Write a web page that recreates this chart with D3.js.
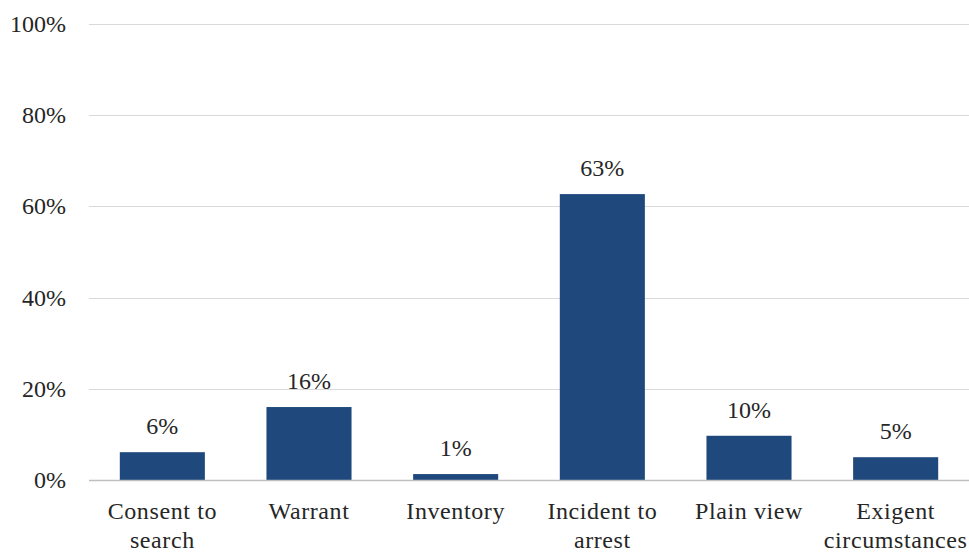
<!DOCTYPE html>
<html><head><meta charset="utf-8">
<script src="https://cdn.jsdelivr.net/npm/d3@7"></script>
<style>
html,body{margin:0;padding:0;background:#fff;}
svg{display:block;}
</style></head>
<body>
<svg id="chart" width="969" height="552"></svg>
<script>
const categories = ["Consent to\nsearch", "Warrant", "Inventory", "Incident to\narrest", "Plain view", "Exigent\ncircumstances"];
const values = [6.1, 16, 1.3, 62.7, 9.7, 5];
const valueLabels = ["6%", "16%", "1%", "63%", "10%", "5%"];
const yTicks = [0, 20, 40, 60, 80, 100];

const svg = d3.select("#chart");
const W = 969, H = 552;
const m = {left: 89, right: 0, top: 24, bottom: 72};
const FONT = "'Liberation Serif', serif";

const x = d3.scaleBand().domain(categories).range([m.left, W - m.right]).paddingInner(0.42).paddingOuter(0.21);
const y = d3.scaleLinear().domain([0, 100]).range([H - m.bottom, m.top]);

svg.append("g").selectAll("line").data(yTicks.filter(d => d > 0)).join("line")
  .attr("x1", m.left).attr("x2", W - m.right)
  .attr("y1", d => Math.round(y(d)) + 0.5).attr("y2", d => Math.round(y(d)) + 0.5)
  .attr("stroke", "#d9d9d9").attr("stroke-width", 1);

svg.append("g").selectAll("text").data(yTicks).join("text")
  .attr("x", 66).attr("y", d => y(d)).attr("dy", "0.33em")
  .attr("text-anchor", "end").attr("font-size", 24).style("font-family", FONT).attr("fill", "#262626")
  .text(d => d + "%");

svg.append("g").selectAll("rect").data(values).join("rect")
  .attr("x", (d, i) => x(categories[i]))
  .attr("width", x.bandwidth())
  .attr("y", d => y(d))
  .attr("height", d => y(0) - y(d))
  .attr("fill", "#1F497D");

svg.append("line")
  .attr("x1", m.left).attr("x2", W - m.right)
  .attr("y1", Math.round(y(0)) + 0.5).attr("y2", Math.round(y(0)) + 0.5)
  .attr("stroke", "#bfbfbf").attr("stroke-width", 1.3);

svg.append("g").selectAll("text").data(values).join("text")
  .attr("x", (d, i) => x(categories[i]) + x.bandwidth() / 2)
  .attr("y", d => y(d) - 18)
  .attr("text-anchor", "middle").attr("font-size", 24).style("font-family", FONT).attr("fill", "#262626")
  .text((d, i) => valueLabels[i]);

const cat = svg.append("g").selectAll("text").data(categories).join("text")
  .attr("text-anchor", "middle").attr("font-size", 24).style("font-family", FONT).attr("fill", "#262626")
  .attr("letter-spacing", "0.6px")
  .attr("transform", d => `translate(${x(d) + x.bandwidth() / 2},${y(0) + 39})`);
cat.each(function(d) {
  const lines = d.split("\n");
  d3.select(this).selectAll("tspan").data(lines).join("tspan")
    .attr("x", 0).attr("y", (l, j) => j * 29).text(l => l);
});
</script>
</body></html>
